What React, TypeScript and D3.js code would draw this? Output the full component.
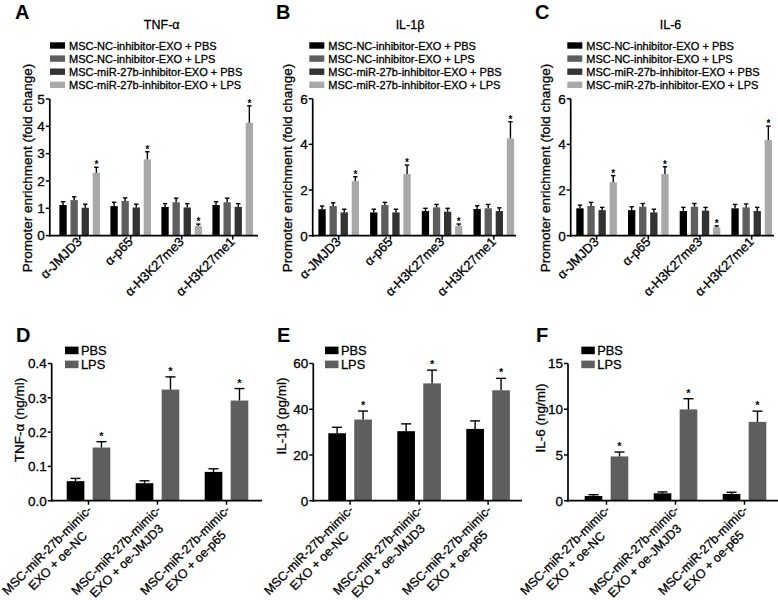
import React, { useEffect, useRef } from "react";
import * as d3 from "d3";

// ---------- data ----------
const topCategories = ["α-JMJD3", "α-p65", "α-H3K27me3", "α-H3K27me1"];
const topSeries = [
  "MSC-NC-inhibitor-EXO + PBS",
  "MSC-NC-inhibitor-EXO + LPS",
  "MSC-miR-27b-inhibitor-EXO + PBS",
  "MSC-miR-27b-inhibitor-EXO + LPS",
];
const topColors = ["#000000", "#5e5e5e", "#333333", "#a9a9a9"];

// Panel A: TNF-α
const tnfMeans = [
  [1.12, 1.08, 1.05, 1.12],
  [1.3, 1.27, 1.22, 1.22],
  [1.02, 1.03, 1.03, 1.05],
  [2.3, 2.79, 0.35, 4.13],
];
const tnfErrors = [
  [0.12, 0.14, 0.12, 0.12],
  [0.12, 0.11, 0.15, 0.15],
  [0.13, 0.12, 0.14, 0.12],
  [0.2, 0.28, 0.07, 0.62],
];
// Panel B: IL-1β
const il1bMeans = [
  [1.16, 1.02, 1.08, 1.17],
  [1.3, 1.34, 1.24, 1.2],
  [1.02, 1.02, 1.05, 1.08],
  [2.39, 2.7, 0.42, 4.26],
];
const il1bErrors = [
  [0.14, 0.14, 0.12, 0.14],
  [0.14, 0.12, 0.13, 0.17],
  [0.14, 0.14, 0.15, 0.14],
  [0.19, 0.39, 0.09, 0.73],
];
// Panel C: IL-6
const il6Means = [
  [1.2, 1.12, 1.08, 1.2],
  [1.3, 1.27, 1.27, 1.24],
  [1.12, 1.02, 1.1, 1.08],
  [2.34, 2.7, 0.37, 4.19],
];
const il6Errors = [
  [0.14, 0.15, 0.16, 0.17],
  [0.16, 0.14, 0.14, 0.15],
  [0.12, 0.14, 0.14, 0.16],
  [0.29, 0.32, 0.06, 0.61],
];
const topStars = [false, false, false, true];

const bottomCategories = [
  ["MSC-miR-27b-mimic-", "EXO + oe-NC"],
  ["MSC-miR-27b-mimic-", "EXO + oe-JMJD3"],
  ["MSC-miR-27b-mimic-", "EXO + oe-p65"],
];
const bottomSeries = ["PBS", "LPS"];
const bottomColors = ["#000000", "#5e5e5e"];

const dPBS = [0.057, 0.051, 0.084];
const dPBSErr = [0.008, 0.007, 0.009];
const dLPS = [0.155, 0.324, 0.292];
const dLPSErr = [0.017, 0.037, 0.035];

const ePBS = [29.5, 30.4, 31.4];
const ePBSErr = [2.6, 3.2, 3.5];
const eLPS = [35.5, 51.3, 48.3];
const eLPSErr = [3.7, 5.8, 5.2];

const fPBS = [0.52, 0.81, 0.74];
const fPBSErr = [0.14, 0.15, 0.18];
const fLPS = [4.84, 9.98, 8.62];
const fLPSErr = [0.48, 1.17, 1.17];
const bottomStars = [false, true];

const ticksA = [0, 1, 2, 3, 4, 5];
const ticksBC = [0, 2, 4, 6];
const ticksD = [0, 0.1, 0.2, 0.3, 0.4];
const ticksE = [0, 20, 40, 60];
const ticksF = [0, 5, 10, 15];

const FONT = "'Liberation Sans', Arial, Helvetica, sans-serif";

export default function App() {
  const ref = useRef<SVGSVGElement | null>(null);

  useEffect(() => {
    const svg = d3.select(ref.current);
    svg.selectAll("*").remove();
    const root = svg.append("g").attr("font-family", FONT);
    const textRoot = (sel: any) => sel.attr("stroke", "#000").attr("stroke-width", 0.3);

    const drawYAxis = (
      g: any,
      x0: number,
      y: any,
      ticks: number[],
      fmt: (v: number) => string
    ) => {
      const [r0, r1] = y.range();
      g.append("line")
        .attr("x1", x0).attr("x2", x0)
        .attr("y1", r0 + 1).attr("y2", r1)
        .attr("stroke", "#000").attr("stroke-width", 1.7);
      ticks.forEach((t) => {
        g.append("line")
          .attr("x1", x0 - 4).attr("x2", x0)
          .attr("y1", y(t)).attr("y2", y(t))
          .attr("stroke", "#000").attr("stroke-width", 1.5);
        textRoot(g.append("text"))
          .attr("x", x0 - 5).attr("y", y(t) + 4.8)
          .attr("text-anchor", "end").attr("font-size", 13.5)
          .text(fmt(t));
      });
    };

    const drawErr = (g: any, cx: number, yTop: number, yErr: number, half: number) => {
      g.append("line")
        .attr("x1", cx).attr("x2", cx).attr("y1", yTop).attr("y2", yErr)
        .attr("stroke", "#000").attr("stroke-width", 1.4);
      g.append("line")
        .attr("x1", cx - half).attr("x2", cx + half).attr("y1", yErr).attr("y2", yErr)
        .attr("stroke", "#000").attr("stroke-width", 1.4);
    };

    // ---------- top panels ----------
    const topPanels = [
      { letter: "A", lx: 15, title: "TNF-α", tx: 161.7, x0: 49.8, cx0: 79.7, step: 51, xEnd: 258, y0: 235.6, yTop: 99, max: 5, ticks: ticksA, means: tnfMeans, errs: tnfErrors, labX: 27, legX: 50 },
      { letter: "B", lx: 276, title: "IL-1β", tx: 410, x0: 312.7, cx0: 338.7, step: 51.7, xEnd: 516, y0: 235.7, yTop: 98.7, max: 6, ticks: ticksBC, means: il1bMeans, errs: il1bErrors, labX: 287, legX: 309.3 },
      { letter: "C", lx: 535, title: "IL-6", tx: 670.5, x0: 570.7, cx0: 596.6, step: 51.7, xEnd: 774, y0: 235.7, yTop: 98.7, max: 6, ticks: ticksBC, means: il6Means, errs: il6Errors, labX: 545, legX: 567.3 },
    ];

    topPanels.forEach((p) => {
      const g = root.append("g");
      g.append("text").attr("x", p.lx).attr("y", 19).attr("font-size", 20).attr("font-weight", "bold").text(p.letter);
      textRoot(g.append("text")).attr("x", p.tx).attr("y", 29).attr("font-size", 12.5).attr("text-anchor", "middle").text(p.title);

      // legend
      topSeries.forEach((s, i) => {
        const cy = 45.5 + i * 13.1;
        g.append("rect").attr("x", p.legX).attr("y", cy - 3.2).attr("width", 15).attr("height", 6.4).attr("fill", topColors[i]);
        textRoot(g.append("text")).attr("x", p.legX + 19).attr("y", cy + 4).attr("font-size", 11).text(s);
      });

      const y = d3.scaleLinear().domain([0, p.max]).range([p.y0, p.yTop]);
      const x = d3.scaleBand<string>().domain(topCategories)
        .range([p.cx0 - p.step / 2, p.cx0 + p.step * 3.5]).padding(0);
      const inner = d3.scaleBand<number>().domain([0, 1, 2, 3])
        .range([-22.2, 22.2]).paddingInner(0.34).paddingOuter(0.17);

      // bars
      topSeries.forEach((_, si) => {
        topCategories.forEach((c, ci) => {
          const cx = (x(c) as number) + x.bandwidth() / 2;
          const bx = cx + (inner(si) as number);
          const bw = inner.bandwidth();
          const v = p.means[si][ci];
          const e = p.errs[si][ci];
          g.append("rect").attr("x", bx).attr("y", y(v)).attr("width", bw).attr("height", p.y0 - y(v)).attr("fill", topColors[si]);
          drawErr(g, bx + bw / 2, y(v), y(v + e), 2.2);
          if (topStars[si]) {
            g.append("text").attr("x", bx + bw / 2).attr("y", y(v + e) + 1).attr("font-size", 10).attr("text-anchor", "middle").attr("font-weight", "bold").text("*");
          }
        });
      });

      // axes
      g.append("line").attr("x1", p.x0 - 0.8).attr("x2", p.xEnd).attr("y1", p.y0).attr("y2", p.y0).attr("stroke", "#000").attr("stroke-width", 1.7);
      drawYAxis(g, p.x0, y, p.ticks, (v) => d3.format("d")(v));
      topCategories.forEach((c) => {
        const cx = (x(c) as number) + x.bandwidth() / 2;
        g.append("line").attr("x1", cx).attr("x2", cx).attr("y1", p.y0).attr("y2", p.y0 + 4).attr("stroke", "#000").attr("stroke-width", 1.5);
        textRoot(g.append("text"))
          .attr("transform", `translate(${cx + 3},${p.y0 + 7}) rotate(-45)`)
          .attr("text-anchor", "end").attr("font-size", 13).text(c);
      });
      textRoot(g.append("text"))
        .attr("transform", `translate(${p.labX + 4.5},168) rotate(-90)`)
        .attr("text-anchor", "middle").attr("font-size", 13.5)
        .text("Promoter enrichment (fold change)");
    });

    // ---------- bottom panels ----------
    const bottomPanels = [
      { letter: "D", lx: 16, x0: 51.7, cx0: 88.5, step: 69, xEnd: 262, max: 0.4, ticks: ticksD, fmt: d3.format(".1f"), pbs: dPBS, pbsE: dPBSErr, lps: dLPS, lpsE: dLPSErr, label: "TNF-α (ng/ml)", labX: 19, labY: 420, legX: 65 },
      { letter: "E", lx: 277, x0: 313.3, cx0: 350.1, step: 69, xEnd: 522, max: 60, ticks: ticksE, fmt: d3.format("d"), pbs: ePBS, pbsE: ePBSErr, lps: eLPS, lpsE: eLPSErr, label: "IL-1β (pg/ml)", labX: 281, labY: 416, legX: 325 },
      { letter: "F", lx: 536, x0: 568, cx0: 606.5, step: 69, xEnd: 778, max: 15, ticks: ticksF, fmt: d3.format("d"), pbs: fPBS, pbsE: fPBSErr, lps: fLPS, lpsE: fLPSErr, label: "IL-6 (ng/ml)", labX: 540, labY: 418, legX: 581.3 },
    ];
    const by0 = 500.7;
    const byTop = 363.5;

    bottomPanels.forEach((p) => {
      const g = root.append("g");
      g.append("text").attr("x", p.lx).attr("y", 342).attr("font-size", 20).attr("font-weight", "bold").text(p.letter);

      bottomSeries.forEach((s, i) => {
        const cy = 350.4 + i * 14;
        g.append("rect").attr("x", p.legX).attr("y", cy - 3.8).attr("width", 13.5).attr("height", 7.6).attr("fill", bottomColors[i]);
        textRoot(g.append("text")).attr("x", p.legX + 16).attr("y", cy + 4.6).attr("font-size", 12.8).text(s);
      });

      const y = d3.scaleLinear().domain([0, p.max]).range([by0, byTop]);
      const idx = bottomCategories.map((_, i) => i);
      const x = d3.scaleBand<number>().domain(idx)
        .range([p.cx0 - p.step / 2, p.cx0 + p.step * 2.5]).padding(0);
      const inner = d3.scaleBand<number>().domain([0, 1]).range([-21.8, 21.8]).paddingInner(0.32).paddingOuter(0);

      const series = [
        { m: p.pbs, e: p.pbsE },
        { m: p.lps, e: p.lpsE },
      ];
      series.forEach((s, si) => {
        idx.forEach((ci) => {
          const cx = (x(ci) as number) + x.bandwidth() / 2;
          const bx = cx + (inner(si) as number);
          const bw = inner.bandwidth();
          const v = s.m[ci];
          const e = s.e[ci];
          g.append("rect").attr("x", bx).attr("y", y(v)).attr("width", bw).attr("height", by0 - y(v)).attr("fill", bottomColors[si]);
          drawErr(g, bx + bw / 2, y(v), y(v + e), 5);
          if (bottomStars[si]) {
            g.append("text").attr("x", bx + bw / 2).attr("y", y(v + e) - 2).attr("font-size", 11).attr("text-anchor", "middle").attr("font-weight", "bold").text("*");
          }
        });
      });

      g.append("line").attr("x1", p.x0 - 0.8).attr("x2", p.xEnd).attr("y1", by0).attr("y2", by0).attr("stroke", "#000").attr("stroke-width", 1.7);
      drawYAxis(g, p.x0, y, p.ticks, p.fmt);

      idx.forEach((ci) => {
        const cx = (x(ci) as number) + x.bandwidth() / 2;
        g.append("line").attr("x1", cx).attr("x2", cx).attr("y1", by0).attr("y2", by0 + 4).attr("stroke", "#000").attr("stroke-width", 1.5);
        const lg = g.append("g").attr("transform", `translate(${cx + 4},${by0 + 10}) rotate(-45)`);
        const t1 = textRoot(lg.append("text")).attr("text-anchor", "end").attr("font-size", 12.5).text(bottomCategories[ci][0]);
        const w1 = (t1.node() as SVGTextElement).getComputedTextLength();
        textRoot(lg.append("text")).attr("x", -w1 / 2).attr("y", 15).attr("text-anchor", "middle").attr("font-size", 12.5).text(bottomCategories[ci][1]);
      });

      textRoot(g.append("text"))
        .attr("transform", `translate(${p.labX + 4.5},${p.labY}) rotate(-90)`)
        .attr("text-anchor", "middle").attr("font-size", 13.5)
        .text(p.label);
    });
  }, []);

  return (
    <svg
      ref={ref}
      width={778}
      height={600}
      viewBox="0 0 778 600"
      style={{ position: "absolute", left: 0, top: 0, background: "#fff" }}
    />
  );
}
